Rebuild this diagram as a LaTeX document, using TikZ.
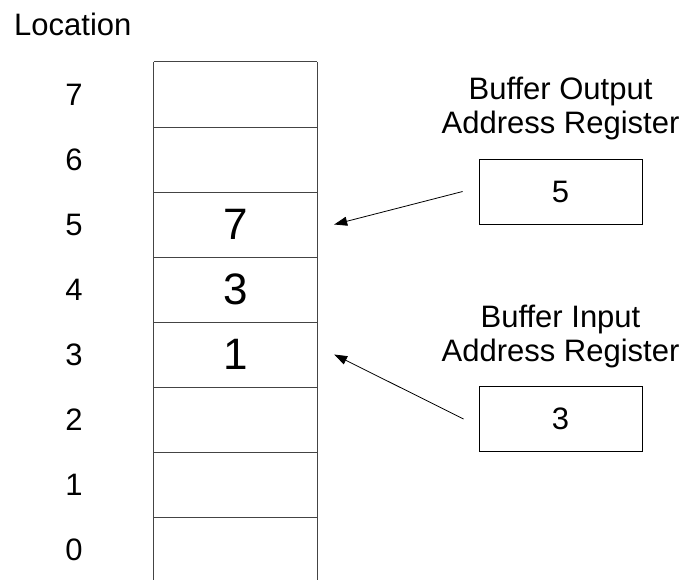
\documentclass[tikz,border=0pt]{standalone}
\usepackage{fontspec}
\setmainfont{Liberation Sans}
\usetikzlibrary{positioning, arrows.meta}
\definecolor{framegray}{HTML}{444444}

\begin{document}
\begin{tikzpicture}[x=1pt, y=-1pt,
    cell/.style={minimum width=163pt, minimum height=65pt, inner sep=0pt,
                 font=\fontsize{44}{44}\selectfont},
    loclabel/.style={inner sep=0pt, font=\fontsize{31}{31}\selectfont},
    regbox/.style={draw, line width=0.8pt, minimum width=163pt, minimum height=65pt,
                   inner sep=0pt, font=\fontsize{31}{31}\selectfont},
    reglabel/.style={align=center, inner sep=0pt, font=\fontsize{31}{34}\selectfont},
    frame/.style={draw=framegray, line width=1pt},
    pointer/.style={-{Triangle[length=13pt, width=9pt]}, line width=0.8pt}]
  \useasboundingbox (0,0) rectangle (688,579);

  % memory cells and their locations
  \foreach \k/\v in {7/,6/,5/7,4/3,3/1,2/,1/,0/} {
    \node[cell] (cell\k) at (235.5, {94.5+65*(7-\k)}) {\v};
    \node[loclabel, left=71pt of cell\k] (loc\k) {\k};
  }
  \node[anchor=base west, inner sep=0pt, font=\fontsize{31}{31}\selectfont]
    (loctitle) at (14,35) {Location};

  \draw[frame] (cell7.north west) -- (cell0.south west);
  \draw[frame] (cell7.north east) -- (cell0.south east);
  \draw[frame] (cell7.north west) -- (cell7.north east);
  \foreach \k in {1,...,7}
    \draw[frame] (cell\k.south west) -- (cell\k.south east);

  % address registers
  \node[regbox] (outreg) at (560.5,191.5) {5};
  \node[reglabel, above=18pt of outreg] (outlabel) {Buffer Output\\Address Register};
  \node[regbox] (inreg) at (560.5,419) {3};
  \node[reglabel, above=18pt of inreg] (inlabel) {Buffer Input\\Address Register};

  \draw[pointer] ([xshift=-16pt]outreg.west) -- ([xshift=17pt]cell5.east);
  \draw[pointer] ([xshift=-15pt]inreg.west) -- ([xshift=17pt]cell3.east);
\end{tikzpicture}
\end{document}
